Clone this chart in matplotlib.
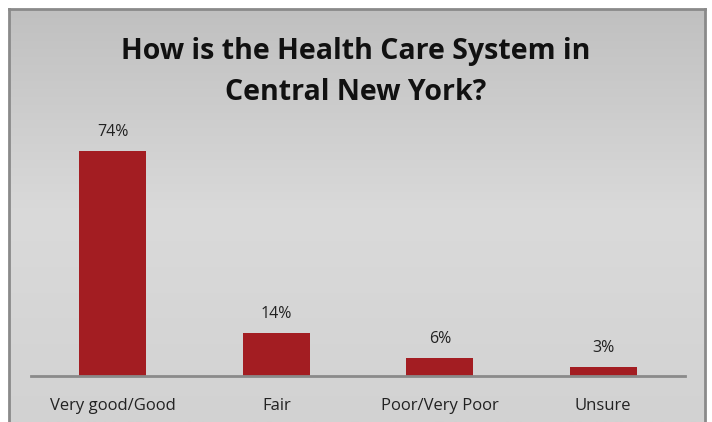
import numpy as np
import matplotlib.pyplot as plt
from matplotlib.colors import LinearSegmentedColormap

categories = ['Very good/Good', 'Fair', 'Poor/Very Poor', 'Unsure']
values = [74, 14, 6, 3]
value_labels = ['74%', '14%', '6%', '3%']

W, H = 712, 422
fig = plt.figure(figsize=(W / 100, H / 100), dpi=100)
fig.patch.set_facecolor('white')

# gradient background inside the frame
bg = fig.add_axes([9 / W, 0, (705 - 9) / W, (H - 9) / H], zorder=0)
grad = LinearSegmentedColormap.from_list('g', ['#c0c0c0', '#dadada', '#d2d2d2'])
bg.imshow(np.linspace(0, 1, 256).reshape(-1, 1), aspect='auto', cmap=grad,
          extent=[0, 1, 0, 1], origin='upper')
bg.set_xlim(0, 1)
bg.set_ylim(0, 1)
for s in ['top', 'left', 'right']:
    bg.spines[s].set_color('#8a8a8a')
    bg.spines[s].set_linewidth(2)
bg.spines['bottom'].set_visible(False)
bg.set_xticks([])
bg.set_yticks([])

ax = fig.add_axes([31 / W, (H - 376) / H, (685 - 31) / W, (376 - 140) / H], zorder=1)
ax.patch.set_alpha(0)
x = np.arange(len(categories))
bars = ax.bar(x, values, width=0.41, color='#a31d22', zorder=2)
ax.set_xlim(-0.5, len(categories) - 0.5)
ax.set_ylim(0, (376 - 140) / 3.04)

font = ['Open Sans', 'DejaVu Sans']
for b, lab in zip(bars, value_labels):
    ax.annotate(lab, (b.get_x() + b.get_width() / 2, b.get_height()),
                xytext=(0, 8), textcoords='offset points', ha='center', va='bottom',
                fontsize=11.5, color='#222222', family=font)

ax.set_xticks(x)
ax.set_xticklabels(categories, fontsize=12, color='#222222', family=font)
ax.tick_params(axis='x', length=0, pad=16)
ax.set_yticks([])
for s in ['top', 'left', 'right']:
    ax.spines[s].set_visible(False)
ax.spines['bottom'].set_color('#8a8a8a')
ax.spines['bottom'].set_linewidth(2)

fig.text(0.5, 1 - 52 / H, 'How is the Health Care System in', ha='center', va='center',
         fontsize=20.5, fontweight='bold', family=font, color='#111111')
fig.text(0.5, 1 - 92 / H, 'Central New York?', ha='center', va='center',
         fontsize=20.5, fontweight='bold', family=font, color='#111111')

fig.savefig('out.png', dpi=100)
